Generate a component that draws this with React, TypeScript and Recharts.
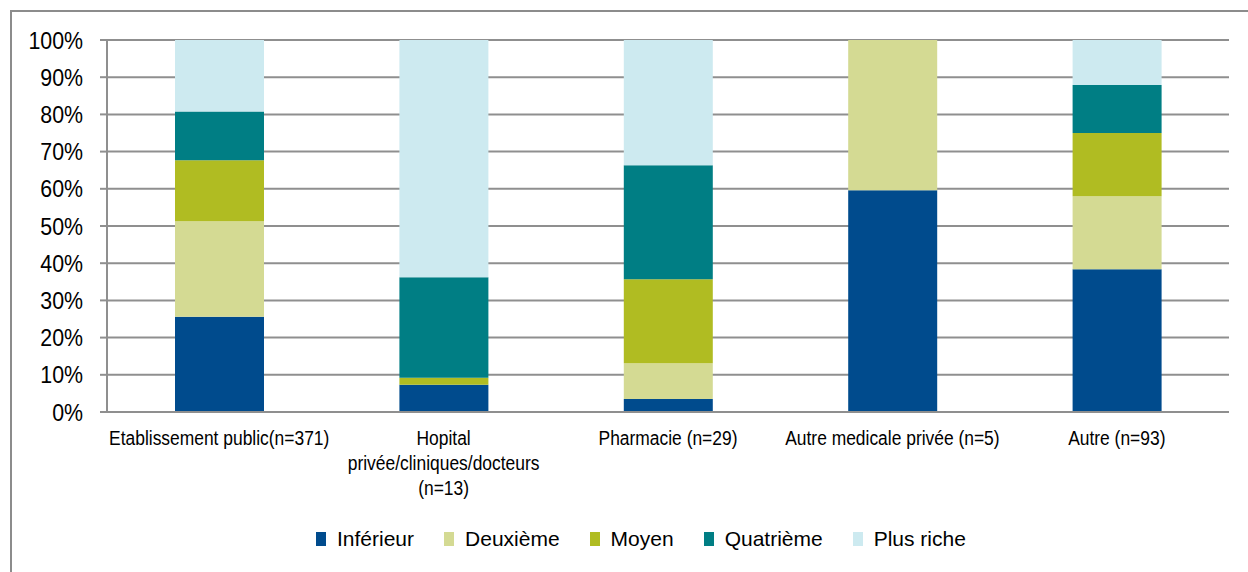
import { BarChart, Bar, XAxis, YAxis, CartesianGrid, Legend } from 'recharts';

const FONT = '"Liberation Sans", Arial, sans-serif';

const categories = [
  'Etablissement public(n=371)',
  'Hopital\nprivée/cliniques/docteurs\n(n=13)',
  'Pharmacie (n=29)',
  'Autre medicale privée (n=5)',
  'Autre (n=93)',
];

// share of each wealth quintile, in %
const inferieur = [25.6, 7.3, 3.5, 59.6, 38.4];
const deuxieme = [25.7, 0, 9.6, 40.4, 19.6];
const moyen = [16.4, 1.9, 22.6, 0, 17.0];
const quatrieme = [13.1, 27.0, 30.6, 0, 12.9];
const plusRiche = [19.2, 63.8, 33.7, 0, 12.1];

const yTicks = [0, 10, 20, 30, 40, 50, 60, 70, 80, 90, 100];
const edgeTicks = [0, 1, 2, 3, 4, 5];

const series = [
  { key: 'inferieur', name: 'Inférieur', color: '#004B8D' },
  { key: 'deuxieme', name: 'Deuxième', color: '#D4DA93' },
  { key: 'moyen', name: 'Moyen', color: '#B0BC22' },
  { key: 'quatrieme', name: 'Quatrième', color: '#007E84' },
  { key: 'plusRiche', name: 'Plus riche', color: '#CDEAF0' },
];

const data = categories.map((name, i) => ({
  name,
  inferieur: inferieur[i],
  deuxieme: deuxieme[i],
  moyen: moyen[i],
  quatrieme: quatrieme[i],
  plusRiche: plusRiche[i],
}));

// no narrow font installed, so axis labels squeeze Liberation Sans horizontally
function CategoryTick({ x, y, payload }: any) {
  const lines = String(payload.value).split('\n');
  return (
    <g transform={`translate(${x},${y + 33}) scale(0.83,1)`}>
      <text x={0} y={0} textAnchor="middle" fontFamily={FONT} fontSize={21} fill="#000">
        {lines.map((l, i) => (
          <tspan key={i} x={0} dy={i === 0 ? 0 : 25}>
            {l}
          </tspan>
        ))}
      </text>
    </g>
  );
}

function YTick({ x, y, payload }: any) {
  return (
    <text
      transform={`translate(${x},${y}) scale(0.89,1)`}
      x={0}
      y={0}
      dy="0.36em"
      textAnchor="end"
      fontFamily={FONT}
      fontSize={24}
      fill="#000"
    >
      {`${payload.value}%`}
    </text>
  );
}

function LegendContent() {
  return (
    <div style={{ display: 'flex', alignItems: 'center', fontFamily: FONT, fontSize: 21, lineHeight: '24px', color: '#000' }}>
      {series.map((s) => (
        <div key={s.key} style={{ display: 'flex', alignItems: 'center', marginRight: 30 }}>
          <span style={{ display: 'inline-block', width: 10, height: 14, background: s.color, marginRight: 11 }} />
          <span style={{ whiteSpace: 'nowrap' }}>{s.name}</span>
        </div>
      ))}
    </div>
  );
}

export default function App() {
  return (
    <div>
      <style>{`body{margin:0;overflow:hidden;}`}</style>
      <div
        style={{
          position: 'absolute',
          left: 10,
          top: 10,
          width: 1260,
          height: 600,
          border: '2px solid #8c8c8c',
          background: '#fff',
        }}
      >
        <BarChart
          width={1260}
          height={560}
          data={data}
          margin={{ top: 28, right: 43, left: 0, bottom: 0 }}
          barSize={89}
        >
          <CartesianGrid vertical={false} stroke="#8f8f8f" strokeWidth={2} />
          <XAxis
            xAxisId="edges"
            type="number"
            domain={[0, 5]}
            ticks={edgeTicks}
            height={0}
            axisLine={false}
            tickLine={{ stroke: '#8f8f8f', strokeWidth: 2 }}
            tickSize={5}
            tickFormatter={() => ''}
          />
          <XAxis
            dataKey="name"
            height={160}
            interval={0}
            axisLine={{ stroke: '#8f8f8f', strokeWidth: 2 }}
            tickLine={false}
            tickSize={0}
            tickMargin={0}
            tick={<CategoryTick />}
          />
          <YAxis
            width={95}
            domain={[0, 100]}
            ticks={yTicks}
            interval={0}
            axisLine={{ stroke: '#8f8f8f', strokeWidth: 2 }}
            tickLine={{ stroke: '#8f8f8f', strokeWidth: 2 }}
            tickSize={7}
            tickMargin={17}
            tick={<YTick />}
          />
          <Legend
            layout="horizontal"
            verticalAlign="middle"
            align="center"
            content={<LegendContent />}
            wrapperStyle={{ top: 515, left: 304, width: 'auto', height: 'auto' }}
          />
          {series.map((s) => (
            <Bar
              key={s.key}
              dataKey={s.key}
              name={s.name}
              stackId="a"
              fill={s.color}
              isAnimationActive={false}
            />
          ))}
        </BarChart>
      </div>
    </div>
  );
}
